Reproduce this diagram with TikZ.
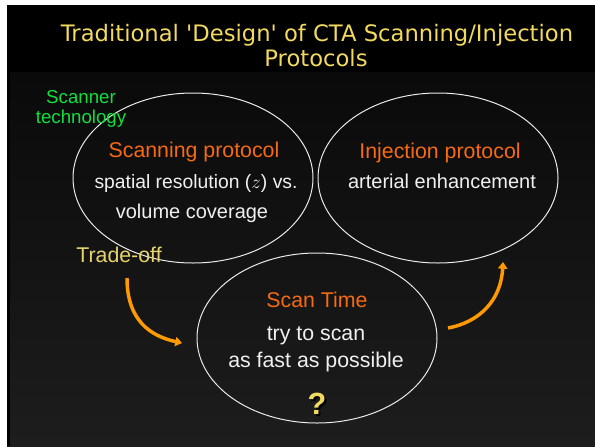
\documentclass[tikz,border=0pt]{standalone}
\usepackage{fontspec}
\setmainfont{Liberation Sans}
\newfontfamily\titlefont{DejaVu Sans}
\usetikzlibrary{arrows.meta,shapes.geometric}
\definecolor{titleyellow}{HTML}{F2DA5E}
\definecolor{softyellow}{HTML}{E6D46A}
\definecolor{headorange}{HTML}{F56A12}
\definecolor{arroworange}{HTML}{FF9A00}
\definecolor{techgreen}{HTML}{10E040}
\definecolor{bgtop}{HTML}{0A0A0A}
\definecolor{bgbottom}{HTML}{1D1D1D}

\begin{document}
\begin{tikzpicture}[x=0.75pt,y=-0.75pt]
\tikzset{blob/.style = {shape=ellipse,draw=white!92!black,line width=0.75pt,minimum width=180pt,minimum height=127.5pt,inner sep=0pt}}
\tikzset{head/.style = {anchor=base,inner sep=0pt,text=headorange,font=\fontsize{16}{19}\selectfont}}
\tikzset{body/.style = {anchor=base,inner sep=0pt,text=white!94!black,font=\fontsize{15}{18}\selectfont}}
\tikzset{edge/.style = {-{Triangle[length=5pt,width=7pt]},draw=arroworange,line width=2.6pt}}
% BACKGROUND
\useasboundingbox (0,0) rectangle (595,446);
\fill[white] (0,0) rectangle (595,446);
\fill[black] (7,5) rectangle (595,72);
\shade[top color=bgtop,bottom color=bgbottom] (7,72) rectangle (595,446);
\fill[black] (7,72) rectangle (10,446);
% TITLE
\node[anchor=base,text=titleyellow,font=\titlefont\fontsize{17}{20}\selectfont] (t1) at (317,41) {Traditional \textquotesingle Design\textquotesingle\ of CTA Scanning/Injection};
\node[anchor=base,text=titleyellow,font=\titlefont\fontsize{17}{20}\selectfont] (t2) at (316,66) {Protocols};
% NODES
\node[blob] (scan) at (193,178) {};
\node[blob] (inj) at (438,178) {};
\node[blob] (time) at (317,338) {};
\node[anchor=base,inner sep=0pt,text=techgreen,font=\fontsize{14}{16}\selectfont] (g1) at (81,103) {Scanner};
\node[anchor=base,inner sep=0pt,text=techgreen,font=\fontsize{14}{16}\selectfont] (g2) at (81,123) {technology};
\node[head] (sh) at (194,157) {Scanning protocol};
\node[body,font=\fontsize{14.5}{18}\selectfont] (sb1) at (196,188) {spatial resolution ($z$) vs.};
\node[body] (sb2) at (192,218) {volume coverage};
\node[head] (ih) at (440,158) {Injection protocol};
\node[body] (ib) at (442,188) {arterial enhancement};
\node[head] (th) at (317,307) {Scan Time};
\node[body,font=\fontsize{16}{19}\selectfont] (tb1) at (316,340) {try to scan};
\node[body,font=\fontsize{16}{19}\selectfont] (tb2) at (316,367) {as fast as possible};
\node[anchor=base,inner sep=0pt,text=black,font=\bfseries\fontsize{23}{26}\selectfont] (qs) at (319,416) {?};
\node[anchor=base,inner sep=0pt,text=titleyellow,font=\bfseries\fontsize{23}{26}\selectfont] (q) at (317,414) {?};
\node[anchor=base,inner sep=0pt,text=softyellow,font=\fontsize{16}{19}\selectfont] (tr) at (119,262) {Trade-off};
% EDGES
\coordinate (a1) at (127,278);
\coordinate (a2) at (182,343);
\coordinate (b1) at (448,328);
\coordinate (b2) at (503,262);
\draw[edge] (a1) .. controls (127,320) and (150,336) .. (a2);
\draw[edge] (b1) .. controls (480,322) and (501,300) .. (b2);
\end{tikzpicture}
\end{document}
